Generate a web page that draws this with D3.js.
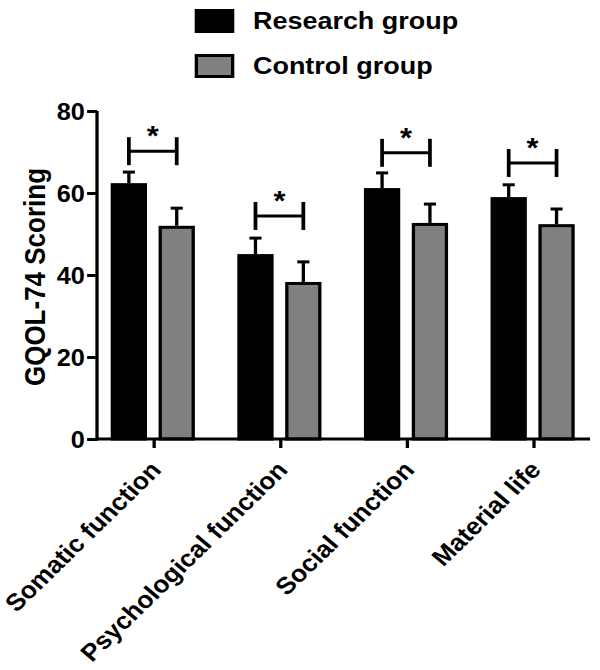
<!DOCTYPE html>
<html>
<head>
<meta charset="utf-8">
<script src="https://cdn.jsdelivr.net/npm/d3@7"></script>
<style>
  html, body { margin: 0; padding: 0; background: #fff; }
  svg { display: block; }
  text { font-family: "Liberation Sans", Arial, Helvetica, sans-serif; font-weight: bold; fill: #000; }
</style>
</head>
<body>
<svg id="chart" width="600" height="670"></svg>
<script>
const categories = ["Somatic function", "Psychological function", "Social function", "Material life"];
const seriesNames = ["Research group", "Control group"];
const researchMean = [62.4, 45.1, 61.2, 59.0];
const researchErr = [2.7, 3.9, 3.7, 3.0];
const controlMean = [52.0, 38.3, 52.7, 52.4];
const controlErr = [4.3, 4.9, 4.6, 3.7];
const bracketLevel = [70.2, 54.4, 69.8, 67.3];
const significance = ["*", "*", "*", "*"];
const yTicks = [0, 20, 40, 60, 80];
const yTitle = "GQOL-74 Scoring";

const SX = 1.1;
const svg = d3.select("#chart");
const g = svg.append("g").attr("transform", `scale(${SX},1)`);

const y = d3.scaleLinear().domain([0, 80]).range([439, 111]);
const x = d3.scalePoint().domain(categories).range([88.2, 536.4]).padding(0.447);
const fills = ["#000000", "#808080"];
const sw = 3;
const barW = 33;
const offsets = [-39, 4.5];

const series = [
  { name: seriesNames[0], mean: researchMean, err: researchErr, fill: fills[0], off: offsets[0] },
  { name: seriesNames[1], mean: controlMean, err: controlErr, fill: fills[1], off: offsets[1] }
];

series.forEach(s => {
  const data = categories.map((c, i) => ({ c, v: s.mean[i], e: s.err[i] }));
  const grp = g.append("g");
  grp.selectAll("line.err").data(data).enter().append("line")
    .attr("x1", d => x(d.c) + s.off + barW / 2).attr("x2", d => x(d.c) + s.off + barW / 2)
    .attr("y1", d => y(d.v)).attr("y2", d => y(d.v + d.e))
    .attr("stroke", "#000").attr("stroke-width", sw);
  grp.selectAll("line.cap").data(data).enter().append("line")
    .attr("x1", d => x(d.c) + s.off + barW / 2 - 5.5).attr("x2", d => x(d.c) + s.off + barW / 2 + 5.5)
    .attr("y1", d => y(d.v + d.e)).attr("y2", d => y(d.v + d.e))
    .attr("stroke", "#000").attr("stroke-width", sw);
  grp.selectAll("rect").data(data).enter().append("rect")
    .attr("x", d => x(d.c) + s.off + sw / 2)
    .attr("y", d => y(d.v) + sw / 2)
    .attr("width", barW - sw)
    .attr("height", d => y(0) - y(d.v) - sw / 2)
    .attr("fill", s.fill).attr("stroke", "#000").attr("stroke-width", sw);
});

// significance brackets
const bData = categories.map((c, i) => ({ c, v: bracketLevel[i], s: significance[i] }));
const bg = g.append("g");
bData.forEach(d => {
  const x1 = x(d.c) + offsets[0] + barW / 2;
  const x2 = x(d.c) + offsets[1] + barW / 2;
  const yy = y(d.v);
  bg.append("line").attr("x1", x1).attr("x2", x2).attr("y1", yy).attr("y2", yy)
    .attr("stroke", "#000").attr("stroke-width", sw);
  [x1, x2].forEach(xx => bg.append("line").attr("x1", xx).attr("x2", xx)
    .attr("y1", yy - 14).attr("y2", yy + 14).attr("stroke", "#000").attr("stroke-width", 3.4));
  bg.append("text").attr("x", (x1 + x2) / 2).attr("y", yy - 6)
    .attr("text-anchor", "middle").style("font-size", "28px").text(d.s);
});

// y axis
const yAxis = g.append("g").attr("transform", "translate(88.2,0)")
  .call(d3.axisLeft(y).tickValues(yTicks).tickSize(9).tickSizeOuter(0).tickPadding(2));
yAxis.select(".domain").attr("stroke-width", sw).attr("d", `M0,${y(0) + 1.5}V${y(80)}`);
yAxis.selectAll(".tick line").attr("stroke-width", sw);
yAxis.selectAll(".tick text").attr("font-family", null).attr("font-size", null)
  .style("font-size", "23px").attr("dy", "0.36em");

// x axis
const xAxis = g.append("g").attr("transform", `translate(0,${y(0)})`)
  .call(d3.axisBottom(x).tickSize(9).tickSizeOuter(0).tickFormat(""));
xAxis.select(".domain").attr("stroke-width", sw).attr("d", `M${88.2 - 1.5},0H536.4`);
xAxis.selectAll(".tick line").attr("stroke-width", sw);

// x labels
g.append("g").selectAll("text").data(categories).enter().append("text")
  .attr("transform", d => `translate(${x(d) + 8},${y(0) + 32}) rotate(-47)`)
  .attr("text-anchor", "end").style("font-size", "24px").text(d => d);

// y title
g.append("text").attr("transform", `translate(41,277) rotate(-90)`)
  .attr("text-anchor", "middle").style("font-size", "26px").text(yTitle);

// legend
const legend = g.append("g");
series.forEach((s, i) => {
  const ly = i === 0 ? 9 : 54;
  legend.append("rect").attr("x", 177 + sw / 2).attr("y", ly + sw / 2)
    .attr("width", 36 - sw).attr("height", 24 - sw)
    .attr("fill", s.fill).attr("stroke", "#000").attr("stroke-width", sw);
  legend.append("text").attr("x", 230).attr("y", ly + 20)
    .style("font-size", "24.5px").text(s.name);
});
</script>
</body>
</html>
